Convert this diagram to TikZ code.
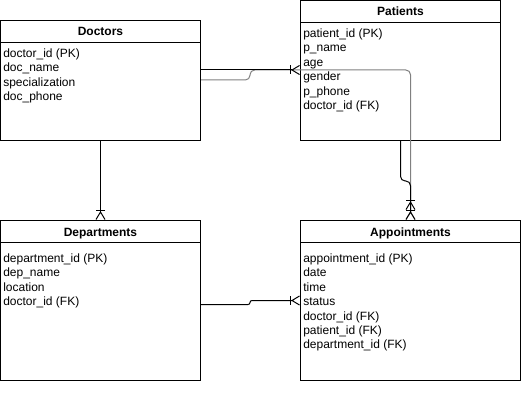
\documentclass[tikz,border=0pt]{standalone}
\usepackage{fontspec}
\setmainfont{Liberation Sans}
\usetikzlibrary{arrows.meta,calc}
\begin{document}
\begin{tikzpicture}[x=0.75pt,y=-0.75pt,
  ent/.style={draw, line width=0.75pt, inner sep=0pt, fill=white},
  ttl/.style={font=\fontsize{9}{10.8}\selectfont\bfseries, anchor=base, inner sep=0pt},
  fld/.style={font=\fontsize{9}{10.8}\selectfont, anchor=base west, inner sep=0pt},
  hdr/.style={line width=0.75pt},
  conn/.style={line width=0.75pt, rounded corners=3.5pt},
  many/.style={-{Bar[width=6.75pt,sep=0pt] Straight Barb[reversed,length=5.6pt,width=6.75pt,sep=0pt]}},
  manytwo/.style={-{Bar[width=6.75pt,sep=0pt] Straight Barb[reversed,length=5.6pt,width=6.75pt,sep=0pt] Bar[width=6.75pt,sep=0pt] Straight Barb[reversed,length=5.6pt,width=6.75pt,sep=0pt]}},
  faint/.style={draw=black!50}
]
\useasboundingbox (0,0) rectangle (521,406);

% entities
\node[ent, minimum width=150pt, minimum height=90pt] (doc) at (100.5,80.5) {};
\node[ent, minimum width=150pt, minimum height=105pt] (pat) at (400.5,70.5) {};
\node[ent, minimum width=150pt, minimum height=120pt] (dep) at (100.5,300.5) {};
\node[ent, minimum width=165pt, minimum height=120pt] (app) at (410.5,300.5) {};

% header separators
\draw[hdr] ($(doc.north west)+(0,22.5)$) -- ($(doc.north east)+(0,22.5)$);
\draw[hdr] ($(pat.north west)+(0,22.5)$) -- ($(pat.north east)+(0,22.5)$);
\draw[hdr] ($(dep.north west)+(0,22.5)$) -- ($(dep.north east)+(0,22.5)$);
\draw[hdr] ($(app.north west)+(0,22.5)$) -- ($(app.north east)+(0,22.5)$);

% titles
\node[ttl] (doct) at (100.5,36) {Doctors};
\node[ttl] (patt) at (400.5,16) {Patients};
\node[ttl] (dept) at (100.5,236.5) {Departments};
\node[ttl] (appt) at (410.5,236.5) {Appointments};

% fields
\foreach \t [count=\i] in {doctor\_id (PK), doc\_name, specialization, doc\_phone}
  \node[fld] (d\i) at (3,{57.5+14.4*(\i-1)}) {\t};
\foreach \t [count=\i] in {patient\_id (PK), p\_name, age, gender, p\_phone, doctor\_id (FK)}
  \node[fld] (p\i) at (303,{37.5+14.4*(\i-1)}) {\t};
\foreach \t [count=\i] in {department\_id (PK), dep\_name, location, doctor\_id (FK)}
  \node[fld] (r\i) at (3,{262.5+14.4*(\i-1)}) {\t};
\foreach \t [count=\i] in {appointment\_id (PK), date, time, status, doctor\_id (FK), patient\_id (FK), department\_id (FK)}
  \node[fld] (a\i) at (303,{262.5+14.4*(\i-1)}) {\t};

% connectors
\draw[conn, faint, many] ($(doc.north east)+(0,60)$) -| ($(pat.north west)+(-50,70)$) -| (app.north);
\draw[conn, many] ($(doc.north east)+(0,50)$) -- ($(pat.north west)+(0,70)$);
\draw[conn, manytwo] (pat.south) -- ++(0,40) -| (app.north);
\draw[conn, many] (doc.south) -- (dep.north);
\draw[conn, rounded corners=1.5pt, many] ($(dep.north east)+(0,84.5)$) -| ($(app.north west)+(-50,80.5)$) -- ($(app.north west)+(0,80.5)$);
\end{tikzpicture}
\end{document}
